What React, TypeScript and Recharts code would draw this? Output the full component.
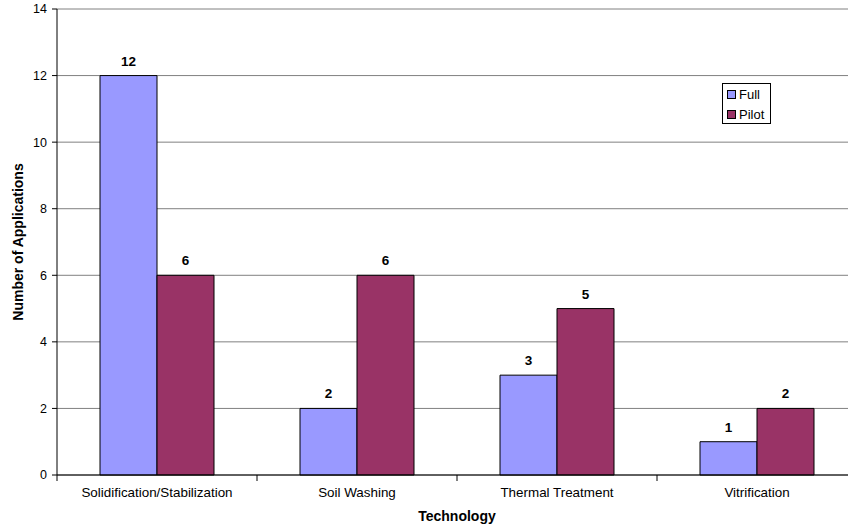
import { Bar, BarChart, CartesianGrid, LabelList, XAxis, YAxis } from 'recharts';

const categories = ['Solidification/Stabilization', 'Soil Washing', 'Thermal Treatment', 'Vitrification'];
const fullValues = [12, 2, 3, 1];
const pilotValues = [6, 6, 5, 2];
const yTicks = [0, 2, 4, 6, 8, 10, 12, 14];
const seriesNames = ['Full', 'Pilot'];

const FONT = 'Arial, "Liberation Sans", sans-serif';
const FULL_COLOR = '#9999FF';
const PILOT_COLOR = '#993366';

const CHART_W = 870;
const CHART_H = 529;
const MARGIN = { top: 9, right: 13, bottom: 24, left: 0 };
const Y_AXIS_W = 57;
const HALF_BAND = (CHART_W - MARGIN.left - MARGIN.right - Y_AXIS_W) / categories.length / 2;

const data = categories.map((name, i) => ({
    name,
    full: fullValues[i],
    pilot: pilotValues[i],
}));

function CategoryTick(props: any) {
    const { x, y, payload } = props;
    return (
        <g>
            <line x1={x - HALF_BAND} x2={x - HALF_BAND} y1={y - 6} y2={y} stroke="#000" />
            <text x={x} y={y + 16} textAnchor="middle" fontSize={13.4} fill="#000" fontFamily={FONT}>
                {payload.value}
            </text>
        </g>
    );
}

function LegendBox() {
    const colors = [FULL_COLOR, PILOT_COLOR];
    return (
        <div
            style={{
                position: 'absolute',
                left: 722,
                top: 83,
                width: 47,
                height: 39,
                border: '1px solid #000',
                background: '#fff',
                fontFamily: FONT,
                fontSize: 13,
            }}
        >
            {seriesNames.map((label, i) => (
                <div key={label} style={{ display: 'flex', alignItems: 'center', height: 20, paddingLeft: 4 }}>
                    <span
                        style={{
                            display: 'inline-block',
                            width: 7,
                            height: 7,
                            background: colors[i],
                            border: '1px solid #000',
                            marginRight: 3,
                        }}
                    />
                    <span>{label}</span>
                </div>
            ))}
        </div>
    );
}

export default function App() {
    return (
        <div
            style={{
                position: 'absolute',
                left: 0,
                top: 0,
                width: 848,
                height: 529,
                overflow: 'hidden',
                background: '#fff',
            }}
        >
            <BarChart
                width={CHART_W}
                height={CHART_H}
                data={data}
                margin={MARGIN}
                barCategoryGap="21.5%"
                barGap={0}
            >
                <CartesianGrid horizontal vertical={false} stroke="#808080" />
                <XAxis
                    dataKey="name"
                    axisLine={{ stroke: '#000' }}
                    tickLine={false}
                    tickSize={6}
                    tickMargin={0}
                    tick={<CategoryTick />}
                    height={30}
                    interval={0}
                    label={{
                        value: 'Technology',
                        position: 'insideBottom',
                        offset: -16,
                        fontSize: 14,
                        fontWeight: 'bold',
                        fill: '#000',
                        fontFamily: FONT,
                    }}
                />
                <YAxis
                    width={Y_AXIS_W}
                    domain={[0, 14]}
                    ticks={yTicks}
                    interval={0}
                    axisLine={{ stroke: '#000' }}
                    tickLine={{ stroke: '#000' }}
                    tickSize={5}
                    tickMargin={5}
                    tick={{ fontSize: 12.5, fill: '#000', fontFamily: FONT }}
                    label={{
                        content: (p: any) => {
                            const vb = p.viewBox;
                            const cx = vb.x + 18;
                            const cy = vb.y + vb.height / 2;
                            return (
                                <text
                                    x={cx}
                                    y={cy}
                                    transform={`rotate(-90 ${cx} ${cy})`}
                                    textAnchor="middle"
                                    dominantBaseline="central"
                                    fontSize={14}
                                    fontWeight="bold"
                                    fontFamily={FONT}
                                    fill="#000"
                                >
                                    Number of Applications
                                </text>
                            );
                        },
                    }}
                />
                <Bar dataKey="full" name={seriesNames[0]} fill={FULL_COLOR} stroke="#000" strokeWidth={1} isAnimationActive={false}>
                    <LabelList dataKey="full" position="top" offset={10} fontSize={13.5} fontWeight="bold" fill="#000" fontFamily={FONT} />
                </Bar>
                <Bar dataKey="pilot" name={seriesNames[1]} fill={PILOT_COLOR} stroke="#000" strokeWidth={1} isAnimationActive={false}>
                    <LabelList dataKey="pilot" position="top" offset={10} fontSize={13.5} fontWeight="bold" fill="#000" fontFamily={FONT} />
                </Bar>
            </BarChart>
            <LegendBox />
        </div>
    );
}
